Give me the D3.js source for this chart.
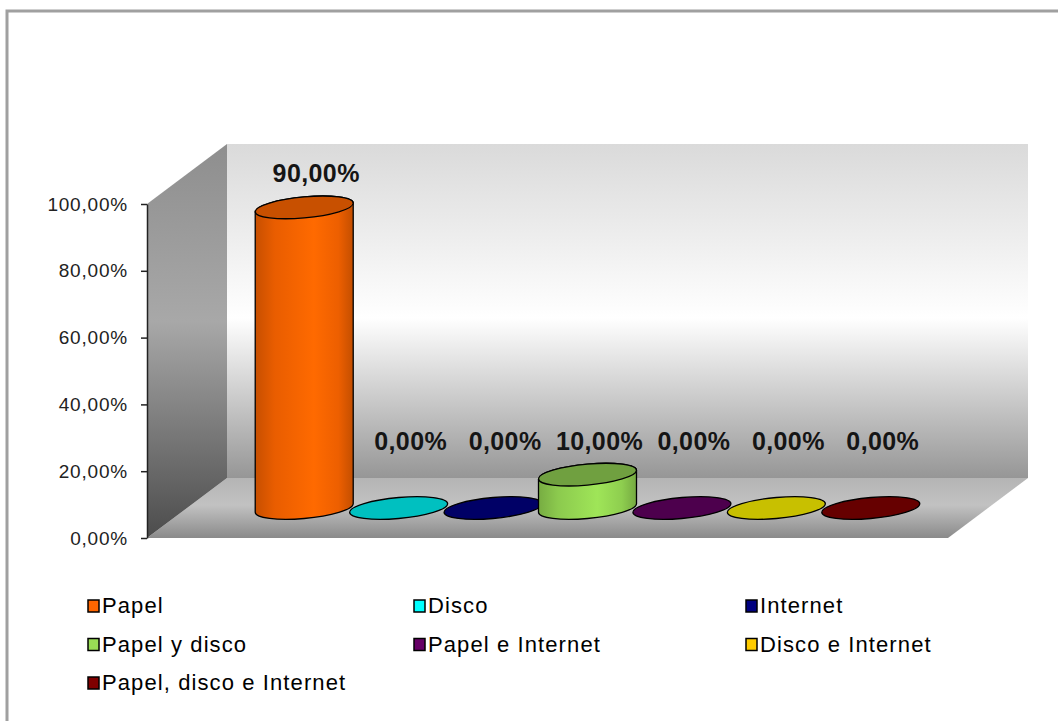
<!DOCTYPE html>
<meta charset="utf-8">
<style>
    body { margin: 0; background: #fff; }
    text { font-family: "Liberation Sans", Arial, sans-serif; }
    .axis text { font-size: 19px; fill: #222; letter-spacing: 0.8px; }
    .axis path, .axis line { stroke: #222; stroke-width: 1.5px; }
    .label { font-size: 25px; font-weight: bold; fill: #151515; letter-spacing: 0.4px; }
    .legend text { font-size: 22px; fill: #000; letter-spacing: 1.1px; }
</style>
<body>
<svg width="1058" height="721"></svg>
</body>
<script src="https://cdn.jsdelivr.net/npm/d3@7/dist/d3.min.js"></script>
<script>

    // data
    var categories = ["Papel", "Disco", "Internet", "Papel y disco",
        "Papel e Internet", "Disco e Internet", "Papel, disco e Internet"];
    var values = [0.90, 0, 0, 0.10, 0, 0, 0];
    var yTicks = [0, 0.2, 0.4, 0.6, 0.8, 1];

    // colours: legend / side of cylinder, and darker top face
    var sideColors = ["#ff6600", "#00ffff", "#000080", "#99dd55", "#660066", "#ffcc00", "#800000"];
    var topColors  = ["#c85000", "#00c0c0", "#000066", "#70a040", "#4d004d", "#c8c000", "#660000"];

    var svg = d3.select("svg");

    var locale = d3.formatLocale({decimal: ",", thousands: ".", grouping: [3], currency: ["", "€"]});
    var pct = locale.format(".2%");

    // frame
    svg.append("rect")
        .attr("x", 7).attr("y", 11)
        .attr("width", 1100).attr("height", 800)
        .attr("fill", "#fff")
        .attr("stroke", "#a0a0a0")
        .attr("stroke-width", 3);

    // 3d box geometry (front plane + depth offset)
    var boxL = 147, boxR = 948, boxB = 538, boxT = 204;
    var dx = 80, dy = -60;

    // value scale on the front plane (axis) and on the mid-depth plane (bars)
    var yAxisScale = d3.scaleLinear().domain([0, 1]).range([boxB, boxT]);
    var yBar = d3.scaleLinear().domain([0, 1]).range([boxB + dy / 2, boxT + dy / 2]);

    var x = d3.scaleBand().domain(categories).range([257, 918]);

    var defs = svg.append("defs");

    function vGrad(id, y1, y2, stops) {
        var g = defs.append("linearGradient").attr("id", id)
            .attr("gradientUnits", "userSpaceOnUse")
            .attr("x1", 0).attr("x2", 0).attr("y1", y1).attr("y2", y2);
        stops.forEach(function (s) {
            g.append("stop").attr("offset", s[0]).attr("stop-color", s[1]);
        });
    }
    vGrad("backWall", boxT + dy, boxB + dy, [[0, "#dadada"], [0.3, "#efefef"], [0.52, "#ffffff"], [0.75, "#cdcdcd"], [1, "#969696"]]);
    vGrad("floor", boxB + dy, boxB, [[0, "#b4b4b4"], [0.45, "#c2c2c2"], [1, "#8a8a8a"]]);
    vGrad("leftWall", boxT + dy, boxB, [[0, "#8e8e8e"], [0.45, "#a8a8a8"], [1, "#4c4c4c"]]);

    // horizontal shading for cylinder bodies
    sideColors.forEach(function (c, i) {
        var g = defs.append("linearGradient").attr("id", "side" + i)
            .attr("x1", 0).attr("x2", 1).attr("y1", 0).attr("y2", 0);
        var base = d3.color(c);
        [[0, base.darker(0.7)], [0.2, base.darker(0.25)], [0.6, base.brighter(0.1)], [0.85, base.darker(0.2)], [1, base.darker(0.75)]]
            .forEach(function (s) {
                g.append("stop").attr("offset", s[0]).attr("stop-color", s[1]);
            });
    });

    // walls
    function poly(pts) { return "M" + pts.map(function (p) { return p.join(","); }).join("L") + "Z"; }

    svg.append("path")
        .attr("d", poly([[boxL + dx, boxT + dy], [boxR + dx, boxT + dy], [boxR + dx, boxB + dy], [boxL + dx, boxB + dy]]))
        .attr("fill", "url(#backWall)");
    svg.append("path")
        .attr("d", poly([[boxL, boxB], [boxR, boxB], [boxR + dx, boxB + dy], [boxL + dx, boxB + dy]]))
        .attr("fill", "url(#floor)");
    svg.append("path")
        .attr("d", poly([[boxL, boxB], [boxL, boxT], [boxL + dx, boxT + dy], [boxL + dx, boxB + dy]]))
        .attr("fill", "url(#leftWall)");

    // axis
    svg.append("g")
        .attr("class", "axis")
        .attr("transform", "translate(" + boxL + ",0)")
        .call(d3.axisLeft(yAxisScale)
            .tickValues(yTicks)
            .tickSize(6)
            .tickSizeOuter(0)
            .tickPadding(13)
            .tickFormat(pct))
        .call(function (g) { g.attr("font-family", null).attr("font-size", null); });

    // cylinders
    var rx = 49, ry = 10.5, skew = -5;
    var y0 = yBar(0);

    var bars = svg.append("g").selectAll("g")
        .data(categories)
        .enter().append("g")
        .attr("transform", function (d) {
            return "translate(" + (x(d) + x.bandwidth() / 2) + "," + y0 + ") skewY(" + skew + ")";
        });

    bars.each(function (d, i) {
        var g = d3.select(this);
        var h = yBar(values[i]) - y0;
        if (values[i] > 0) {
            g.append("path")
                .attr("d", "M" + (-rx) + "," + h + "L" + (-rx) + ",0"
                    + "A" + rx + "," + ry + " 0 0 0 " + rx + ",0"
                    + "L" + rx + "," + h
                    + "A" + rx + "," + ry + " 0 0 0 " + (-rx) + "," + h + "Z")
                .attr("fill", "url(#side" + i + ")")
                .attr("stroke", "#000")
                .attr("stroke-width", 1.3);
        }
        g.append("ellipse")
            .attr("cx", 0).attr("cy", h)
            .attr("rx", rx).attr("ry", ry)
            .attr("fill", topColors[i])
            .attr("stroke", "#000")
            .attr("stroke-width", 1.3);
    });

    // data labels
    svg.append("g").selectAll("text")
        .data(categories)
        .enter().append("text")
        .attr("class", "label")
        .attr("text-anchor", "middle")
        .attr("x", function (d) { return x(d) + x.bandwidth() / 2 + 12; })
        .attr("y", function (d, i) { return yBar(Math.max(values[i], 0.1)) - 25; })
        .text(function (d, i) { return pct(values[i]); });

    // legend
    var legendCols = [88, 414, 746];
    var legend = svg.append("g").attr("class", "legend")
        .selectAll("g")
        .data(categories)
        .enter().append("g")
        .attr("transform", function (d, i) {
            return "translate(" + legendCols[i % 3] + "," + (613 + Math.floor(i / 3) * 38.5) + ")";
        });
    legend.append("rect")
        .attr("x", 0).attr("y", -13)
        .attr("width", 11).attr("height", 12)
        .attr("fill", function (d, i) { return sideColors[i]; })
        .attr("stroke", "#000")
        .attr("stroke-width", 1.5);
    legend.append("text")
        .attr("x", 14)
        .text(function (d) { return d; });

</script>
